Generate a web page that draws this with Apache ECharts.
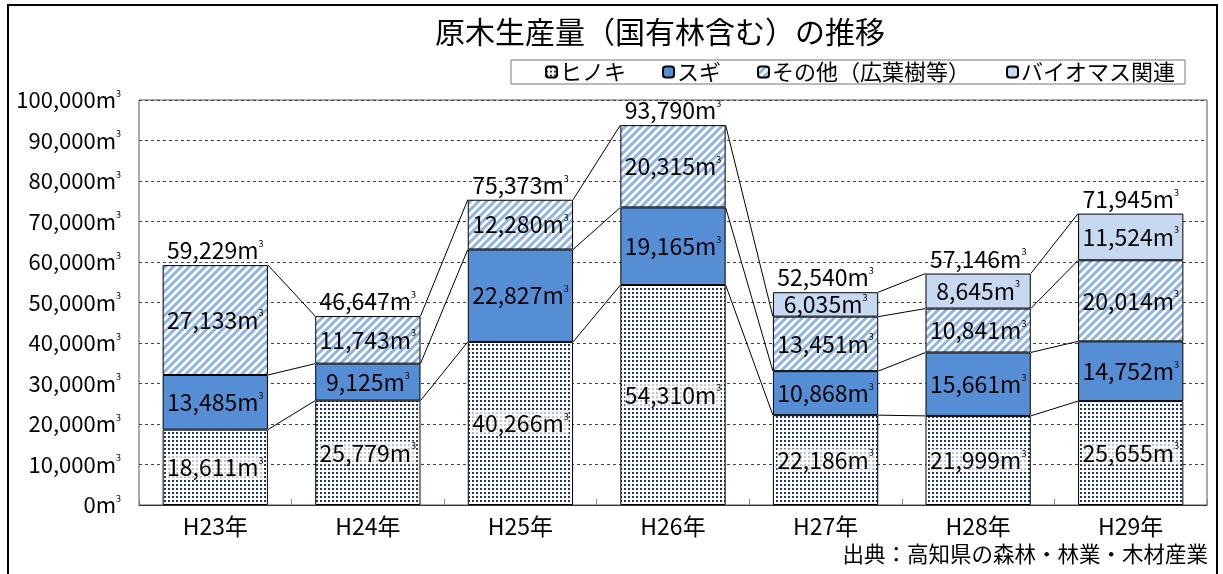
<!DOCTYPE html>
<html>
<head>
<meta charset="utf-8">
<script src="https://cdn.jsdelivr.net/npm/echarts@6/dist/echarts.min.js"></script>
<style>
html,body{margin:0;padding:0;background:#fff;}
#main{width:1223px;height:574px;}
</style>
</head>
<body>
<div id="main"></div>
<script>
var years = ['H23年', 'H24年', 'H25年', 'H26年', 'H27年', 'H28年', 'H29年'];
var hinoki = [18611, 25779, 40266, 54310, 22186, 21999, 25655];
var sugi = [13485, 9125, 22827, 19165, 10868, 15661, 14752];
var sonota = [27133, 11743, 12280, 20315, 13451, 10841, 20014];
var biomass = [null, null, null, null, 6035, 8645, 11524];
var totals = [59229, 46647, 75373, 93790, 52540, 57146, 71945];
var yTicks = [0, 10000, 20000, 30000, 40000, 50000, 60000, 70000, 80000, 90000, 100000];

var FONT = '"Noto Sans CJK JP", sans-serif';
var BAR_RATIO = 0.69;

// ヒノキ用のドット模様
function dotPattern() {
    var c = document.createElement('canvas');
    c.width = 4; c.height = 4;
    var ctx = c.getContext('2d');
    ctx.fillStyle = '#ffffff';
    ctx.fillRect(0, 0, 4, 4);
    ctx.fillStyle = '#1f3864';
    ctx.fillRect(0, 0, 2, 2);
    return c;
}
// その他用の斜線模様
function stripePattern() {
    var c = document.createElement('canvas');
    c.width = 8; c.height = 8;
    var ctx = c.getContext('2d');
    ctx.fillStyle = '#ffffff';
    ctx.fillRect(0, 0, 8, 8);
    ctx.strokeStyle = '#8db3e2';
    ctx.lineWidth = 3;
    ctx.beginPath();
    ctx.moveTo(-2, 10); ctx.lineTo(10, -2);
    ctx.moveTo(-6, 6); ctx.lineTo(6, -6);
    ctx.moveTo(2, 14); ctx.lineTo(14, 2);
    ctx.stroke();
    return c;
}

function fmt(v) {
    return String(v).replace(/\B(?=(\d{3})+(?!\d))/g, ',');
}
var rich = {
    n: {fontSize: 23, fontFamily: FONT, color: '#000'},
    s: {fontSize: 9, fontFamily: FONT, color: '#000', verticalAlign: 'top'}
};
function volLabel(v) {
    return '{n|' + fmt(v) + 'm}{s|3}';
}

var seriesList = [
    {name: 'ヒノキ', data: hinoki, color: {image: dotPattern(), repeat: 'repeat'}, bg: 'rgba(255,255,255,0.7)'},
    {name: 'スギ', data: sugi, color: '#558ed5', bg: 'transparent'},
    {name: 'その他（広葉樹等）', data: sonota, color: {image: stripePattern(), repeat: 'repeat'}, bg: 'transparent'},
    {name: 'バイオマス関連', data: biomass, color: '#c6d9f1', bg: 'transparent'}
];

// 区分線（系列線）のデータ
var cum = [];
var links = [];
seriesList.forEach(function (s, k) {
    cum[k] = s.data.map(function (v, i) {
        if (v == null) return null;
        var sum = 0;
        for (var j = 0; j <= k; j++) sum += (seriesList[j].data[i] || 0);
        return sum;
    });
});
cum.forEach(function (arr) {
    for (var i = 0; i < arr.length - 1; i++) {
        if (arr[i] != null && arr[i + 1] != null) links.push([i, arr[i], arr[i + 1]]);
    }
});

var series = seriesList.map(function (s) {
    return {
        name: s.name,
        type: 'bar',
        stack: 'total',
        barWidth: (BAR_RATIO * 100) + '%',
        data: s.data,
        itemStyle: {color: s.color, borderColor: '#000', borderWidth: 1},
        label: {
            show: true,
            position: 'inside',
            backgroundColor: s.bg,
            padding: [0, 0],
            formatter: function (p) { return volLabel(p.value); },
            rich: rich
        },
        emphasis: {disabled: true}
    };
});

series.push({
    type: 'custom',
    silent: true,
    z: 3,
    data: links,
    encode: {x: 0, y: [1, 2]},
    renderItem: function (params, api) {
        var i = api.value(0);
        var half = api.size([1, 0])[0] * BAR_RATIO / 2;
        var p1 = api.coord([i, api.value(1)]);
        var p2 = api.coord([i + 1, api.value(2)]);
        return {
            type: 'line',
            shape: {x1: p1[0] + half, y1: p1[1], x2: p2[0] - half, y2: p2[1]},
            style: {stroke: '#000', lineWidth: 1}
        };
    }
});

series.push({
    type: 'scatter',
    silent: true,
    symbol: 'rect',
    symbolSize: 0,
    itemStyle: {color: '#000', opacity: 1},
    data: totals,
    emphasis: {disabled: true},
    label: {
        show: true,
        position: 'top',
        distance: 3,
        color: '#000',
        opacity: 1,
        formatter: function (p) { return volLabel(p.value); },
        rich: rich
    }
});

var myChart = echarts.init(document.getElementById('main'));
myChart.setOption({
    animation: false,
    textStyle: {fontFamily: FONT},
    title: {
        text: '原木生産量（国有林含む）の推移',
        left: 655,
        textAlign: 'center',
        top: 12,
        textStyle: {fontSize: 30, fontWeight: 'normal', color: '#000', fontFamily: FONT}
    },
    legend: {
        data: seriesList.map(function (s) { return s.name; }),
        right: 38,
        top: 60,
        itemWidth: 11,
        itemHeight: 11,
        itemGap: 36,
        padding: [1, 10, 1, 34],
        borderColor: '#777',
        borderWidth: 1,
        selectedMode: false,
        textStyle: {fontSize: 22, color: '#000', fontFamily: FONT, padding: [0, 0, 0, -2]}
    },
    grid: {
        left: 139, right: 16, top: 100, bottom: 69,
        show: true, borderColor: '#555', borderWidth: 1
    },
    xAxis: {
        type: 'category',
        data: years,
        axisLine: {lineStyle: {color: '#333'}},
        axisTick: {show: true, inside: true, length: 6, lineStyle: {color: '#888'}},
        axisLabel: {fontSize: 23, color: '#000', margin: 10, fontFamily: FONT}
    },
    yAxis: {
        type: 'value',
        min: yTicks[0],
        max: yTicks[yTicks.length - 1],
        interval: yTicks[1] - yTicks[0],
        axisLine: {show: false},
        axisTick: {show: false},
        splitLine: {lineStyle: {color: '#444', type: [3, 3]}},
        axisLabel: {
            margin: 18,
            formatter: function (v) { return volLabel(v); },
            rich: {
                n: {fontSize: 22, fontFamily: FONT, color: '#000'},
                s: {fontSize: 9, fontFamily: FONT, color: '#000', verticalAlign: 'top'}
            }
        }
    },
    graphic: [
        {type: 'rect', shape: {x: 8, y: 5, width: 1209, height: 600}, style: {fill: 'none', stroke: '#000', lineWidth: 2}, silent: true},
        {type: 'text', right: 15, top: 543, style: {text: '出典：高知県の森林・林業・木材産業', fontSize: 21.5, fill: '#000', fontFamily: FONT}}
    ],
    series: series
});
</script>
</body>
</html>
